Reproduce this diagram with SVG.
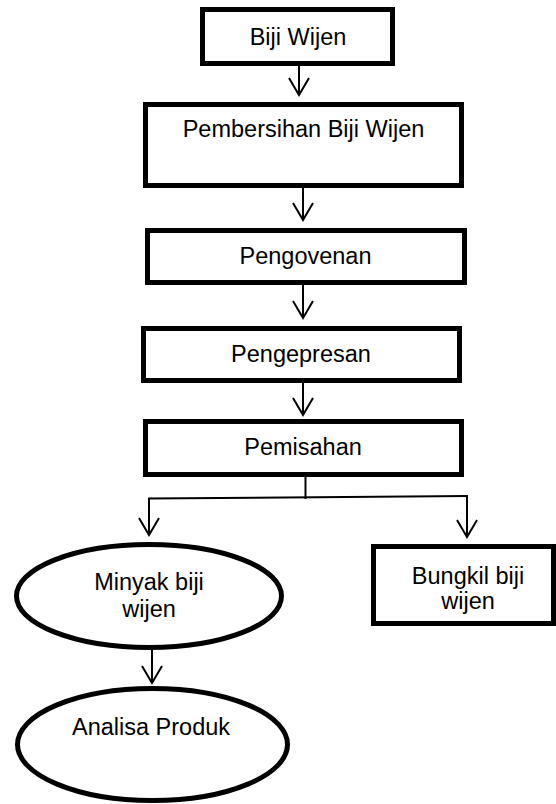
<svg xmlns="http://www.w3.org/2000/svg" width="556" height="804" viewBox="0 0 556 804">
  <style>
    .box { fill: #ffffff; stroke: #000000; stroke-width: 5; }
    .lbl { font-family: "Liberation Sans", Arial, sans-serif; font-size: 23.5px; fill: #000000; text-anchor: middle; }
    .conn { fill: none; stroke: #000000; stroke-width: 2; }
    .arrow { marker-end: url(#vhead); }
  </style>
  <defs>
    <marker id="vhead" markerUnits="userSpaceOnUse" markerWidth="40" markerHeight="40" refX="0" refY="0" orient="auto" overflow="visible">
      <path d="M -17,-10 L 0,0 L -17,10" fill="none" stroke="#000000" stroke-width="2"/>
    </marker>
  </defs>
  <rect width="556" height="804" fill="#ffffff"/>

  <g id="connectors">
    <line class="conn arrow" x1="299" y1="66" x2="299" y2="95"/>
    <line class="conn arrow" x1="303" y1="188" x2="303" y2="220"/>
    <line class="conn arrow" x1="303" y1="285" x2="303" y2="318"/>
    <line class="conn arrow" x1="303" y1="383" x2="303" y2="415"/>
    <line class="conn" x1="305.5" y1="477" x2="305.5" y2="499"/>
    <line class="conn" x1="148" y1="498.5" x2="468" y2="496"/>
    <line class="conn arrow" x1="149" y1="498.5" x2="149" y2="535"/>
    <line class="conn arrow" x1="467" y1="496" x2="467" y2="537"/>
    <line class="conn arrow" x1="152" y1="650" x2="152" y2="683"/>
  </g>

  <g id="biji-wijen">
    <rect class="box" x="202.5" y="9.5" width="190" height="54"/>
    <text class="lbl" x="298" y="45">Biji Wijen</text>
  </g>

  <g id="pembersihan">
    <rect class="box" x="145.5" y="104.5" width="316" height="81"/>
    <text class="lbl" x="303.5" y="137">Pembersihan Biji Wijen</text>
  </g>

  <g id="pengovenan">
    <rect class="box" x="147.5" y="230.5" width="317" height="52"/>
    <text class="lbl" x="305.5" y="264">Pengovenan</text>
  </g>

  <g id="pengepresan">
    <rect class="box" x="143.5" y="328.5" width="316" height="52"/>
    <text class="lbl" x="301" y="362">Pengepresan</text>
  </g>

  <g id="pemisahan">
    <rect class="box" x="145.5" y="421.5" width="316" height="53"/>
    <text class="lbl" x="303" y="455">Pemisahan</text>
  </g>

  <g id="minyak">
    <ellipse class="box" cx="149" cy="596" rx="132.5" ry="51.5"/>
    <text class="lbl" x="149" y="590">Minyak biji</text>
    <text class="lbl" x="149" y="617">wijen</text>
  </g>

  <g id="bungkil">
    <rect class="box" x="373.5" y="546.5" width="180" height="77"/>
    <text class="lbl" x="468" y="584">Bungkil biji</text>
    <text class="lbl" x="468" y="609">wijen</text>
  </g>

  <g id="analisa">
    <ellipse class="box" cx="152.5" cy="744.5" rx="135" ry="56"/>
    <text class="lbl" x="151" y="735">Analisa Produk</text>
  </g>
</svg>
